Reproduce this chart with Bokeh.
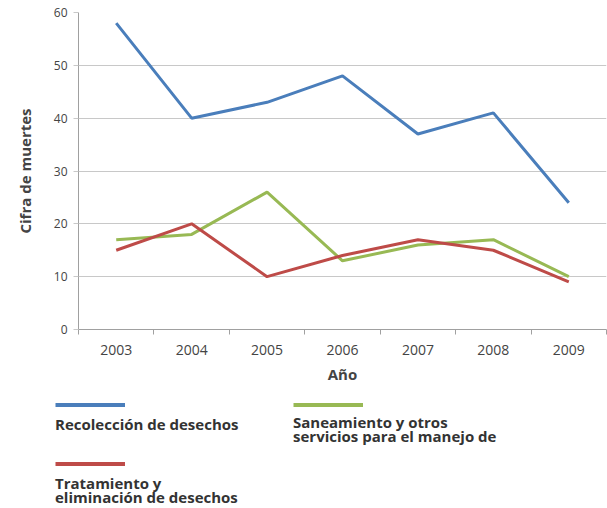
from bokeh.plotting import figure
from bokeh.models import Legend, LegendItem, FixedTicker, Range1d
from bokeh.embed import file_html
from bokeh.resources import INLINE

years = [2003, 2004, 2005, 2006, 2007, 2008, 2009]
recoleccion = [58, 40, 43, 48, 37, 41, 24]
saneamiento = [17, 18, 26, 13, 16, 17, 10]
tratamiento = [15, 20, 10, 14, 17, 15, 9]
y_ticks = [0, 10, 20, 30, 40, 50, 60]

# legend labels, one list of text lines per series
name_lines = [["Recolección de desechos"],
              ["Saneamiento y otros", "servicios para el manejo de"],
              ["Tratamiento y", "eliminación de desechos"]]
colors = ["#4a7ebb", "#98b954", "#be4b48"]
series = [recoleccion, saneamiento, tratamiento]

FONT = "Open Sans"

p = figure(width=607, height=386, output_backend="svg", toolbar_location=None,
           x_range=Range1d(2002.5, 2009.5), y_range=Range1d(0, 60),
           min_border_left=78, min_border_top=12, min_border_right=1,
           min_border_bottom=57)
p.outline_line_color = None

for ys, c in zip(series, colors):
    p.line(years, ys, line_color=c, line_width=3)

p.xaxis.ticker = FixedTicker(ticks=years, minor_ticks=[y + 0.5 for y in [2002] + years])
p.xaxis.major_tick_line_color = None
p.xaxis.major_tick_out = 0
p.xaxis.major_tick_in = 0
p.xaxis.minor_tick_line_color = "#a0a0a0"
p.xaxis.minor_tick_out = 5
p.xaxis.minor_tick_in = 0
p.xaxis.axis_line_color = "#a0a0a0"
p.xaxis.axis_label = "Año"
p.xaxis.axis_label_text_font = FONT
p.xaxis.axis_label_text_font_style = "bold"
p.xaxis.axis_label_text_font_size = "15px"
p.xaxis.axis_label_standoff = 6
p.xaxis.major_label_text_font = FONT
p.xaxis.major_label_text_font_size = "14px"
p.xaxis.major_label_text_color = "#444444"
p.xaxis.major_label_standoff = 10

p.yaxis.ticker = FixedTicker(ticks=y_ticks)
p.yaxis.minor_tick_line_color = None
p.yaxis.major_tick_line_color = "#c8c8c8"
p.yaxis.major_tick_out = 5
p.yaxis.major_tick_in = 0
p.yaxis.axis_line_color = "#a0a0a0"
p.yaxis.axis_label = "Cifra de muertes"
p.yaxis.axis_label_text_font = FONT
p.yaxis.axis_label_text_font_style = "bold"
p.yaxis.axis_label_text_font_size = "15px"
p.yaxis.axis_label_standoff = 16
p.yaxis.major_label_text_font = FONT
p.yaxis.major_label_text_font_size = "12px"
p.yaxis.major_label_text_color = "#444444"
p.yaxis.major_label_standoff = 6

p.xgrid.grid_line_color = None
p.ygrid.grid_line_color = "#c8c8c8"
p.ygrid.grid_line_width = 1

# ---- legend panel (separate root below the chart) ----
q = figure(width=607, height=122, output_backend="svg", toolbar_location=None,
           x_axis_type=None, y_axis_type=None,
           x_range=Range1d(0, 1), y_range=Range1d(0, 1),
           min_border=0, min_border_left=0, min_border_right=0,
           min_border_top=0, min_border_bottom=0)
q.outline_line_color = None
q.grid.visible = False

# hidden copies of the series: they only feed the legend samples
lr = [q.line(years, ys, line_color=c, line_width=4, visible=False)
      for ys, c in zip(series, colors)]


def base(lg):
    lg.border_line_color = None
    lg.background_fill_alpha = 0
    lg.inactive_fill_alpha = 0
    lg.margin = 0
    lg.padding = 0
    lg.spacing = 0
    lg.label_standoff = 0


sample_loc = [(55, 101), (293, 101), (55, 42)]
text_loc = [[(55, 74)], [(293, 76), (293, 62)], [(55, 15), (55, 1)]]
for r, lines, sl, tls in zip(lr, name_lines, sample_loc, text_loc):
    s = Legend(items=[LegendItem(label=" ", renderers=[r])], location=sl)
    base(s)
    s.glyph_width = 70
    s.glyph_height = 5
    s.label_height = 5
    s.label_width = 1
    s.label_text_font_size = "1px"
    q.add_layout(s, "center")

    for line, tl in zip(lines, tls):
        t = Legend(items=[LegendItem(label=line, renderers=[r])], location=tl)
        base(t)
        t.glyph_width = 0
        t.glyph_height = 1
        t.label_height = 12
        t.label_text_font = FONT
        t.label_text_font_style = "bold"
        t.label_text_font_size = "15px"
        t.label_text_color = "#333333"
        q.add_layout(t, "center")

open("out.html", "w").write(file_html([p, q], INLINE))
